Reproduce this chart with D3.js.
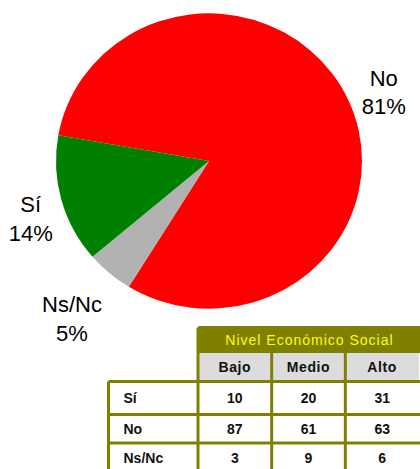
<!DOCTYPE html>
<html>
<head>
<meta charset="utf-8">
<script src="https://cdn.jsdelivr.net/npm/d3@7"></script>
<style>
  body { margin: 0; background: #fff; }
  text { font-family: "Liberation Sans", Arial, sans-serif; }
</style>
</head>
<body>
<div id="chart"></div>
<script>
// pie data (clockwise order as drawn)
var pieLabels = ["No", "Ns/Nc", "Sí"];
var pieValues = [81, 5, 14];
var pieColors = ["#ff0000", "#b2b2b2", "#008000"];

// table data
var tableTitle = "Nivel Económico Social";
var columns = ["Bajo", "Medio", "Alto"];
var rowLabels = ["Sí", "No", "Ns/Nc"];
var siValues = [10, 20, 31];
var noValues = [87, 61, 63];
var nsncValues = [3, 9, 6];

var svgWidth = 420;
var svgHeight = 469;

var svg = d3.select("#chart")
  .append("svg")
  .attr("width", svgWidth)
  .attr("height", svgHeight);

// ---------- pie ----------
var pieData = pieLabels.map(function (d, i) {
  return { label: d, value: pieValues[i], color: pieColors[i] };
});

var radius = 153;
var pie = d3.pie()
  .sort(null)
  .value(d => d.value)
  .startAngle(-80 * Math.PI / 180)
  .endAngle(280 * Math.PI / 180);

var arc = d3.arc().innerRadius(0).outerRadius(radius);

var pieGroup = svg.append("g")
  .attr("transform", "translate(209, 161) scale(1, 0.965)");

var arcs = pie(pieData);

pieGroup.selectAll("path")
  .data(arcs)
  .enter()
  .append("path")
  .attr("d", arc)
  .attr("fill", d => d.data.color);

// label distance from centre for each slice
var labelRadius = { "No": 185, "Ns/Nc": 215, "Sí": 190 };
var labelAngleShift = { "No": 5, "Ns/Nc": -1, "Sí": -5 };

var labelGroup = svg.append("g")
  .attr("transform", "translate(209, 161)");

arcs.forEach(function (d) {
  var a = (d.startAngle + d.endAngle) / 2 + labelAngleShift[d.data.label] * Math.PI / 180;
  var r = labelRadius[d.data.label];
  var x = Math.sin(a) * r;
  var y = -Math.cos(a) * r;
  var t = labelGroup.append("text")
    .attr("x", x)
    .attr("y", y)
    .attr("text-anchor", "middle")
    .style("font-size", "22px")
    .style("fill", "#000");
  t.append("tspan")
    .attr("x", x)
    .attr("dy", "-0.65em")
    .text(d.data.label);
  t.append("tspan")
    .attr("x", x)
    .attr("dy", "1.3em")
    .text(d.value + "%");
});

// ---------- table ----------
var olive = "#808000";
var tableRows = [siValues, noValues, nsncValues];

var xCol = d3.scaleBand()
  .domain(columns)
  .range([198, 419]);

var labelLeft = 108.5;
var titleTop = 326;
var subTop = 353;
var bodyTop = 381.5;
var rowHeights = [33, 28.5, 29];
var rowTops = [bodyTop];
rowHeights.forEach(function (h, i) { rowTops.push(rowTops[i] + h); });

var table = svg.append("g");

// title band
table.append("rect")
  .attr("x", xCol.range()[0] - 1)
  .attr("y", titleTop)
  .attr("width", xCol.range()[1] - xCol.range()[0] + 10)
  .attr("height", subTop - titleTop)
  .attr("rx", 3)
  .attr("fill", olive);

table.append("text")
  .attr("x", (xCol.range()[0] + xCol.range()[1]) / 2 + 1)
  .attr("y", (titleTop + subTop) / 2 + 5)
  .attr("text-anchor", "middle")
  .style("font-size", "14px")
  .style("letter-spacing", "1px")
  .style("fill", "#ffff00")
  .text(tableTitle);

// column header cells
table.selectAll(".colhead")
  .data(columns)
  .enter()
  .append("rect")
  .attr("class", "colhead")
  .attr("x", d => xCol(d))
  .attr("y", subTop)
  .attr("width", xCol.bandwidth())
  .attr("height", bodyTop - subTop)
  .attr("fill", "#dcdcdc");

table.selectAll(".colheadtext")
  .data(columns)
  .enter()
  .append("text")
  .attr("class", "colheadtext")
  .attr("x", d => xCol(d) + xCol.bandwidth() / 2)
  .attr("y", (subTop + bodyTop) / 2 + 5)
  .attr("text-anchor", "middle")
  .style("font-size", "14px")
  .style("font-weight", "bold")
  .style("letter-spacing", "0.6px")
  .style("fill", "#111")
  .text(d => d);

// body text
tableRows.forEach(function (vals, r) {
  var cy = (rowTops[r] + rowTops[r + 1]) / 2 + 5;
  table.append("text")
    .attr("x", labelLeft + 15)
    .attr("y", cy)
    .style("font-size", "14px")
    .style("font-weight", "bold")
    .style("fill", "#111")
    .text(rowLabels[r]);
  table.selectAll(null)
    .data(vals)
    .enter()
    .append("text")
    .attr("x", (d, i) => xCol(columns[i]) + xCol.bandwidth() / 2)
    .attr("y", cy)
    .attr("text-anchor", "middle")
    .style("font-size", "14px")
    .style("font-weight", "bold")
    .style("fill", "#111")
    .text(d => d);
});

// grid lines
var lines = table.append("g")
  .attr("stroke", olive)
  .attr("stroke-width", 3)
  .attr("fill", "none");

// horizontal lines of the body
rowTops.forEach(function (y) {
  lines.append("line")
    .attr("x1", labelLeft)
    .attr("x2", svgWidth)
    .attr("y1", y)
    .attr("y2", y);
});

// left border of the row labels
lines.append("line")
  .attr("x1", labelLeft)
  .attr("x2", labelLeft)
  .attr("y1", bodyTop)
  .attr("y2", svgHeight);

// column separators
columns.forEach(function (c, i) {
  lines.append("line")
    .attr("x1", xCol(c))
    .attr("x2", xCol(c))
    .attr("y1", i === 0 ? titleTop + 2 : subTop)
    .attr("y2", svgHeight);
});
</script>
</body>
</html>
